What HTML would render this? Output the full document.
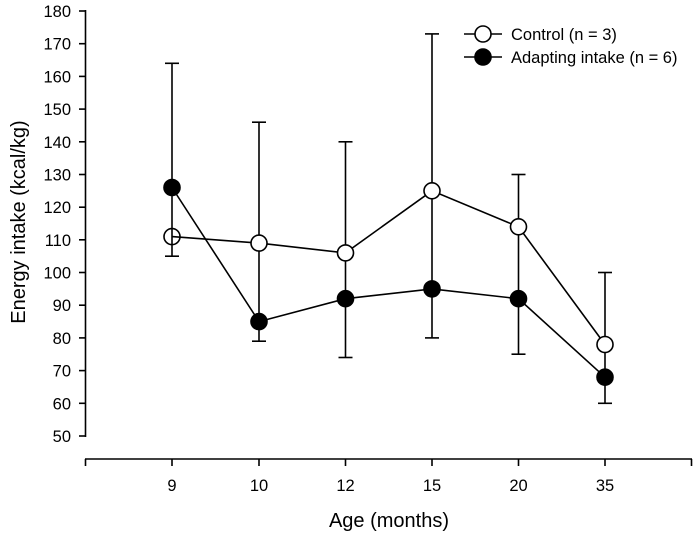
<!DOCTYPE html>
<html><head><style>
body{margin:0;background:#fff}
svg{display:block}
text{font-family:"Liberation Sans",Arial,sans-serif;fill:#000}
</style></head><body>
<svg width="700" height="534" viewBox="0 0 700 534" xmlns="http://www.w3.org/2000/svg">
<g stroke="#000" stroke-width="1.6" fill="none">
<line x1="85.5" y1="10" x2="85.5" y2="437"/>
<g>
<line x1="79" y1="11" x2="86" y2="11"/><line x1="79" y1="43.7" x2="86" y2="43.7"/>
<line x1="79" y1="76.4" x2="86" y2="76.4"/><line x1="79" y1="109.1" x2="86" y2="109.1"/>
<line x1="79" y1="141.8" x2="86" y2="141.8"/><line x1="79" y1="174.5" x2="86" y2="174.5"/>
<line x1="79" y1="207.2" x2="86" y2="207.2"/><line x1="79" y1="239.8" x2="86" y2="239.8"/>
<line x1="79" y1="272.5" x2="86" y2="272.5"/><line x1="79" y1="305.2" x2="86" y2="305.2"/>
<line x1="79" y1="337.9" x2="86" y2="337.9"/><line x1="79" y1="370.6" x2="86" y2="370.6"/>
<line x1="79" y1="403.3" x2="86" y2="403.3"/><line x1="79" y1="436" x2="86" y2="436"/>
</g>
<line x1="85" y1="459" x2="692" y2="459"/>
<line x1="85.5" y1="459" x2="85.5" y2="466"/><line x1="172" y1="459" x2="172" y2="466"/>
<line x1="259" y1="459" x2="259" y2="466"/><line x1="345.5" y1="459" x2="345.5" y2="466"/>
<line x1="432" y1="459" x2="432" y2="466"/><line x1="518.5" y1="459" x2="518.5" y2="466"/>
<line x1="605" y1="459" x2="605" y2="466"/><line x1="691.5" y1="459" x2="691.5" y2="466"/>
<line x1="172" y1="63.3" x2="172" y2="256.2"/><line x1="165" y1="63.3" x2="179" y2="63.3"/><line x1="165" y1="256.2" x2="179" y2="256.2"/>
<line x1="259" y1="122.2" x2="259" y2="341.2"/><line x1="252" y1="122.2" x2="266" y2="122.2"/><line x1="252" y1="341.2" x2="266" y2="341.2"/>
<line x1="345.5" y1="141.8" x2="345.5" y2="357.5"/><line x1="338.5" y1="141.8" x2="352.5" y2="141.8"/><line x1="338.5" y1="357.5" x2="352.5" y2="357.5"/>
<line x1="432" y1="33.9" x2="432" y2="337.9"/><line x1="425" y1="33.9" x2="439" y2="33.9"/><line x1="425" y1="337.9" x2="439" y2="337.9"/>
<line x1="518.5" y1="174.5" x2="518.5" y2="354.2"/><line x1="511.5" y1="174.5" x2="525.5" y2="174.5"/><line x1="511.5" y1="354.2" x2="525.5" y2="354.2"/>
<line x1="605" y1="272.5" x2="605" y2="403.3"/><line x1="598" y1="272.5" x2="612" y2="272.5"/><line x1="598" y1="403.3" x2="612" y2="403.3"/>
<polyline points="172,236.6 259,243.1 345.5,252.9 432,190.8 518.5,226.8 605,344.5"/>
<polyline points="172,187.5 259,321.6 345.5,298.7 432,288.9 518.5,298.7 605,377.2"/>
</g>
<g stroke="#000" stroke-width="1.6">
<g fill="#fff">
<circle cx="259" cy="243.1" r="8"/><circle cx="345.5" cy="252.9" r="8"/>
<circle cx="432" cy="190.8" r="8"/><circle cx="518.5" cy="226.8" r="8"/><circle cx="605" cy="344.5" r="8"/>
<circle cx="172" cy="236.6" r="8" fill="none"/>
</g>
<g fill="#000">
<circle cx="172" cy="187.5" r="8"/><circle cx="259" cy="321.6" r="8"/><circle cx="345.5" cy="298.7" r="8"/>
<circle cx="432" cy="288.9" r="8"/><circle cx="518.5" cy="298.7" r="8"/><circle cx="605" cy="377.2" r="8"/>
</g>
<line x1="464" y1="34" x2="502" y2="34"/><circle cx="483" cy="34" r="8" fill="#fff"/>
<line x1="464" y1="57" x2="502" y2="57"/><circle cx="483" cy="57" r="8" fill="#000"/>
</g>
<g font-size="16.5">
<text x="511" y="40">Control (n = 3)</text>
<text x="511" y="63">Adapting intake (n = 6)</text>
</g>
<g font-size="16.5" text-anchor="end">
<text x="71" y="17">180</text><text x="71" y="49.7">170</text><text x="71" y="82.4">160</text>
<text x="71" y="115.1">150</text><text x="71" y="147.8">140</text><text x="71" y="180.5">130</text>
<text x="71" y="213.2">120</text><text x="71" y="245.8">110</text><text x="71" y="278.5">100</text>
<text x="71" y="311.2">90</text><text x="71" y="343.9">80</text><text x="71" y="376.6">70</text>
<text x="71" y="409.3">60</text><text x="71" y="442">50</text>
</g>
<g font-size="16.5" text-anchor="middle">
<text x="172" y="491">9</text><text x="259" y="491">10</text><text x="345.5" y="491">12</text>
<text x="432" y="491">15</text><text x="518.5" y="491">20</text><text x="605" y="491">35</text>
</g>
<text x="389" y="527" font-size="20" text-anchor="middle">Age (months)</text>
<text transform="translate(25,222) rotate(-90)" font-size="20" text-anchor="middle">Energy intake (kcal/kg)</text>
</svg>
</body></html>
